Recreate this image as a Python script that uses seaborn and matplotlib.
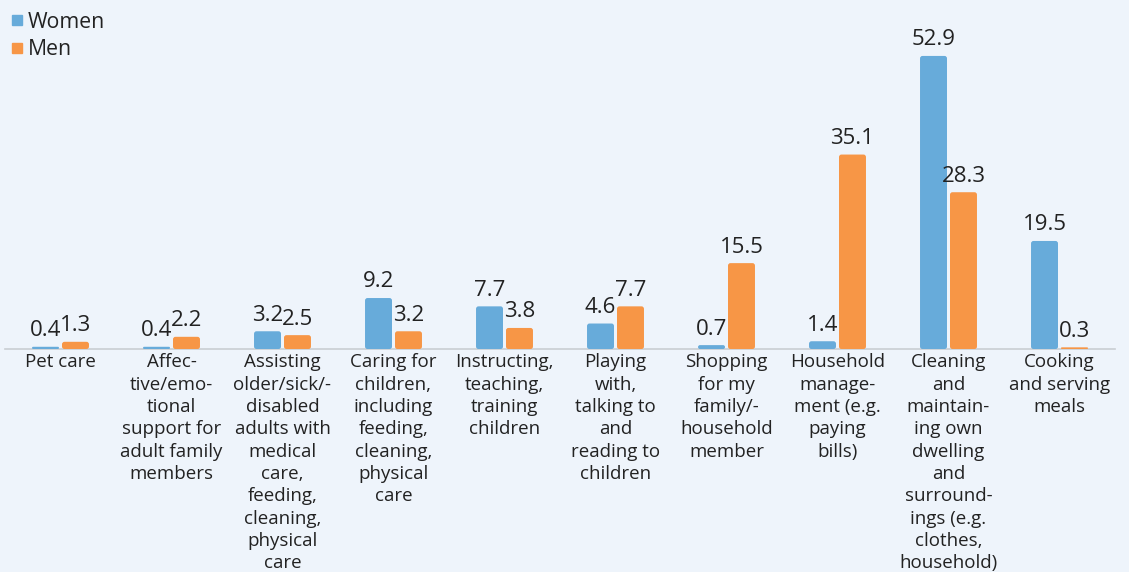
import matplotlib
matplotlib.use("Agg")
import matplotlib.pyplot as plt
from matplotlib.patches import FancyBboxPatch
from matplotlib.lines import Line2D
import seaborn as sns
import pandas as pd

categories = [
    "Pet care",
    "Affec-\ntive/emo-\ntional\nsupport for\nadult family\nmembers",
    "Assisting\nolder/sick/-\ndisabled\nadults with\nmedical\ncare,\nfeeding,\ncleaning,\nphysical\ncare",
    "Caring for\nchildren,\nincluding\nfeeding,\ncleaning,\nphysical\ncare",
    "Instructing,\nteaching,\ntraining\nchildren",
    "Playing\nwith,\ntalking to\nand\nreading to\nchildren",
    "Shopping\nfor my\nfamily/-\nhousehold\nmember",
    "Household\nmanage-\nment (e.g.\npaying\nbills)",
    "Cleaning\nand\nmaintain-\ning own\ndwelling\nand\nsurround-\nings (e.g.\nclothes,\nhousehold)",
    "Cooking\nand serving\nmeals",
]
women = [0.4, 0.4, 3.2, 9.2, 7.7, 4.6, 0.7, 1.4, 52.9, 19.5]
men = [1.3, 2.2, 2.5, 3.2, 3.8, 7.7, 15.5, 35.1, 28.3, 0.3]
series = ["Women", "Men"]
colors = ["#67abda", "#f79646"]

df = pd.DataFrame({
    "category": categories * 2,
    "value": women + men,
    "sex": ["Women"] * len(categories) + ["Men"] * len(categories),
})

bg = "#eef4fb"
text_color = "#222222"
sns.set_theme(style="white")
plt.rcParams["font.family"] = ["Open Sans", "DejaVu Sans"]

W, H = 1129, 572
fig = plt.figure(figsize=(W / 100, H / 100), dpi=100, facecolor=bg)
ymax = 55.0
px_per_unit = 5.54
ax_bottom = (H - 349) / H
ax_height = ymax * px_per_unit / H
ax = fig.add_axes([5 / W, ax_bottom, 1110 / W, ax_height], facecolor=bg)

sns.barplot(data=df, x="category", y="value", hue="sex", hue_order=series,
            palette=colors, width=0.54, gap=0.1, saturation=1,
            order=categories, ax=ax, legend=False)

ax.set_ylim(0, ymax)
ax.set_xlim(-0.5, len(categories) - 0.5)

# swap plain rectangles for slightly rounded ones
x_per_px = len(categories) / 1110
aspect = (1 / px_per_unit) / x_per_px
for p in list(ax.patches):
    x, y = p.get_x(), p.get_y()
    w, h = p.get_width(), p.get_height()
    r = min(2.5 * x_per_px, h / aspect / 2)
    fb = FancyBboxPatch((x, y), w, h,
                        boxstyle=f"round,pad=0,rounding_size={r}",
                        mutation_aspect=aspect,
                        facecolor=p.get_facecolor(), edgecolor="none",
                        zorder=2, clip_on=False)
    ax.add_patch(fb)
    p.set_visible(False)

for cont in ax.containers:
    ax.bar_label(cont, labels=[f"{v:.1f}" for v in cont.datavalues],
                 padding=4, fontsize=16, color=text_color)

ax.set_xlabel("")
ax.set_ylabel("")
ax.set_yticks([])
ax.tick_params(axis="x", length=0, pad=3, labelsize=13.5, labelcolor=text_color)
for lbl in ax.get_xticklabels():
    lbl.set_linespacing(1.31)
    lbl.set_verticalalignment("top")

for s in ["top", "right", "left"]:
    ax.spines[s].set_visible(False)
ax.spines["bottom"].set_color("#c9ced3")
ax.spines["bottom"].set_linewidth(1.2)
ax.spines["bottom"].set_zorder(1)

# legend with small square markers
handles = [Line2D([], [], marker="s", linestyle="none", markersize=7.5,
                  markerfacecolor=c, markeredgecolor=c) for c in colors]
leg = fig.legend(handles, series, loc="upper left", bbox_to_anchor=(0.0, 0.994),
                 frameon=False, fontsize=15.3, handletextpad=0.1,
                 labelspacing=0.3, borderaxespad=0.3, handlelength=0.8,
                 borderpad=0.1)
for t in leg.get_texts():
    t.set_color(text_color)

fig.savefig("out.png", dpi=100, facecolor=bg)
